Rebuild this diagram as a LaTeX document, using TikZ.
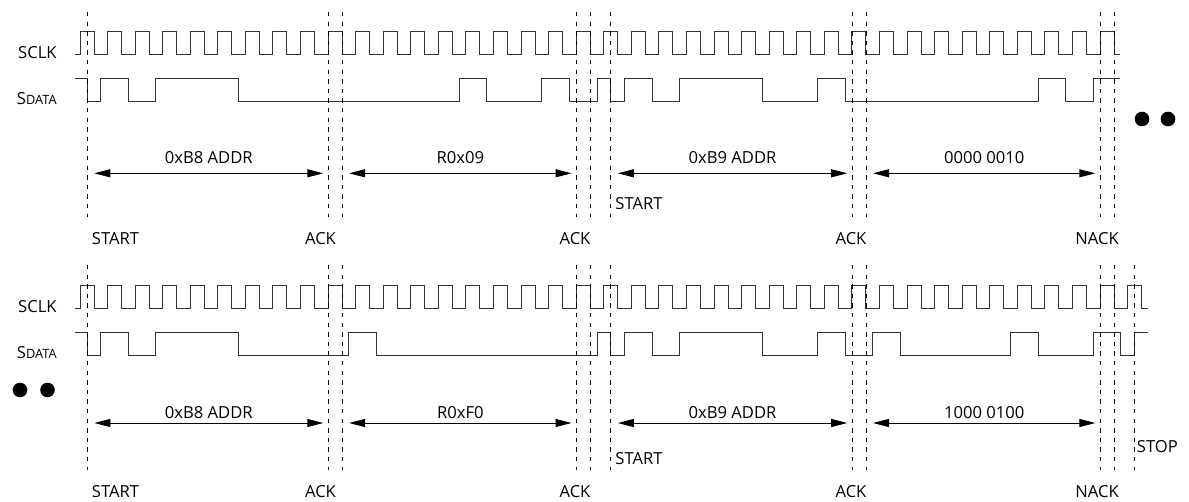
\documentclass[tikz,border=0pt]{standalone}
\usepackage{fontspec}
\setmainfont{Open Sans}
\usetikzlibrary{arrows.meta,calc}

\tikzset{
  sig/.style={black!80,line width=0.5pt},
  guide/.style={black,line width=0.35pt,dash pattern=on 2.2pt off 2.6pt},
  dim/.style={black,line width=0.5pt,{Triangle[length=8pt,width=4pt]}-{Triangle[length=8pt,width=4pt]}},
  lbl/.style={font=\fontsize{8.3}{10}\selectfont,inner sep=0pt},
  blob/.style={circle,fill=black,minimum size=7.3pt,inner sep=0pt}
}
\newcommand{\sdata}{S{\fontsize{6.4}{8}\selectfont DATA}}

\begin{document}
\begin{tikzpicture}[x=0.5pt,y=-0.5pt]
  \path[use as bounding box] (0,0) rectangle (1189,502);

  % first transfer
  \node[lbl,anchor=east] (sclk1) at (57,53) {SCLK};
  \node[lbl,anchor=east] (sdata1) at (57,99) {\sdata};
  \draw[sig] (75,55) \foreach \k in {0,...,37} {-- ({80+27.57*\k},55) -- ++(0,-23) -- ++(14,0) -- ++(0,23)} -- (1120,55);
  \draw[sig] (75,79) -| (87.3,102) -| (100.8,79) -| (128.4,102) -| (155.9,79)
    -| (238.7,102) -| (459.2,79) -| (486.8,102) -| (541.9,79) -| (569.5,102)
    -| (597.1,79) -| (610.8,102) -| (624.6,79) -| (652.2,102) -| (679.8,79)
    -| (762.5,102) -| (817.6,79) -| (845.2,102) -| (1038.2,79) -| (1065.8,102)
    -| (1093.3,79) -- (1120,79);
  \foreach \x in {87.3,328.1,342.1,576.3,590.3,610.8,852,866,1100.1,1114.1}
    \draw[guide] (\x,12) -- (\x,217);

  \coordinate (a1) at (94.3,173.3);
  \coordinate (b1) at (323.3,173.3);
  \coordinate (c1) at (349.1,173.3);
  \coordinate (d1) at (571.5,173.3);
  \coordinate (e1) at (617.8,173.3);
  \coordinate (f1) at (847.2,173.3);
  \coordinate (g1) at (873,173.3);
  \coordinate (h1) at (1095.3,173.3);
  \draw[dim] (a1) -- (b1) node[lbl,midway,yshift=7.9pt] (addr1) {0xB8 ADDR};
  \draw[dim] (c1) -- (d1) node[lbl,midway,yshift=7.9pt] (reg1) {R0x09};
  \draw[dim] (e1) -- (f1) node[lbl,midway,yshift=7.9pt] (raddr1) {0xB9 ADDR};
  \draw[dim] (g1) -- (h1) node[lbl,midway,yshift=7.9pt] (val1) {0000 0010};

  \node[lbl] (start1) at (115.5,239) {START};
  \node[lbl] (ack11) at (320.5,239) {ACK};
  \node[lbl] (ack12) at (575,239) {ACK};
  \node[lbl,anchor=west] (rstart1) at (615,204) {START};
  \node[lbl] (ack13) at (851,239) {ACK};
  \node[lbl] (nack1) at (1097,239) {NACK};
  \node[blob] (dot11) at (1142,119) {};
  \node[blob] (dot12) at (1168,119) {};

  % second transfer
  \node[lbl,anchor=east] (sclk2) at (57,307) {SCLK};
  \node[lbl,anchor=east] (sdata2) at (57,353) {\sdata};
  \draw[sig] (75,309) \foreach \k in {0,...,38} {-- ({80+27.57*\k},309) -- ++(0,-23) -- ++(14,0) -- ++(0,23)} -- (1148,309);
  \draw[sig] (75,332.5) -| (87.3,355.5) -| (100.8,332.5) -| (128.4,355.5) -| (155.9,332.5)
    -| (238.7,355.5) -| (348.9,332.5) -| (376.5,355.5) -| (597.1,332.5) -| (610.8,355.5)
    -| (624.6,332.5) -| (652.2,355.5) -| (679.8,332.5) -| (762.5,355.5) -| (817.6,332.5)
    -| (845.2,355.5) -| (872.8,332.5) -| (900.3,355.5) -| (1010.6,332.5) -| (1038.2,355.5)
    -| (1093.3,332.5) -| (1120.9,355.5) -| (1134.7,332.5) -- (1148,332.5);
  \foreach \x in {87.3,328.1,342.1,576.3,590.3,610.8,852,866,1100.1,1114.1,1134.7}
    \draw[guide] (\x,265) -- (\x,470);

  \coordinate (a2) at (94.3,423);
  \coordinate (b2) at (323.3,423);
  \coordinate (c2) at (349.1,423);
  \coordinate (d2) at (571.5,423);
  \coordinate (e2) at (617.8,423);
  \coordinate (f2) at (847.2,423);
  \coordinate (g2) at (873,423);
  \coordinate (h2) at (1095.3,423);
  \draw[dim] (a2) -- (b2) node[lbl,midway,yshift=5.3pt] (addr2) {0xB8 ADDR};
  \draw[dim] (c2) -- (d2) node[lbl,midway,yshift=5.3pt] (reg2) {R0xF0};
  \draw[dim] (e2) -- (f2) node[lbl,midway,yshift=5.3pt] (raddr2) {0xB9 ADDR};
  \draw[dim] (g2) -- (h2) node[lbl,midway,yshift=5.3pt] (val2) {1000 0100};

  \node[lbl] (start2) at (115.5,492) {START};
  \node[lbl] (ack21) at (320.5,492) {ACK};
  \node[lbl] (ack22) at (575,492) {ACK};
  \node[lbl,anchor=west] (rstart2) at (615,459) {START};
  \node[lbl] (ack23) at (851,492) {ACK};
  \node[lbl] (nack2) at (1097,492) {NACK};
  \node[lbl,anchor=west] (stop2) at (1136.5,447) {STOP};
  \node[blob] (dot21) at (20,390) {};
  \node[blob] (dot22) at (47.5,390) {};
\end{tikzpicture}
\end{document}
